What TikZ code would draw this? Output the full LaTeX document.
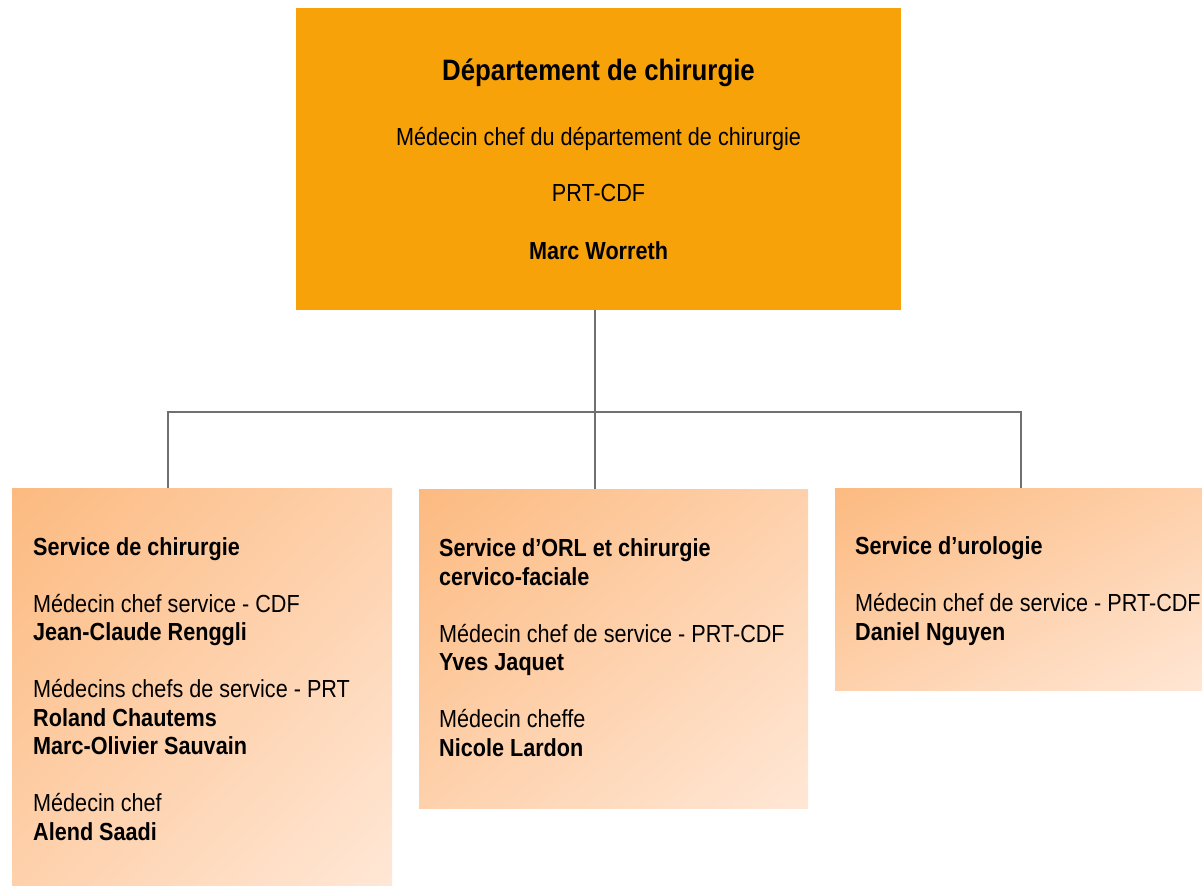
\documentclass[tikz,border=0pt]{standalone}
\usepackage{fontspec}
\usetikzlibrary{shadings}
\setmainfont{Liberation Sans}[FakeStretch=0.875]
\definecolor{topor}{RGB}{248,162,10}
\definecolor{gradA}{RGB}{252,186,128}
\definecolor{gradM}{RGB}{254,209,172}
\definecolor{gradB}{RGB}{255,231,214}
\definecolor{lineg}{RGB}{112,112,112}
\begin{document}
\begin{tikzpicture}[x=1pt,y=-1pt,
  topbox/.style={rectangle,fill=topor,draw=none,inner sep=0pt,anchor=north west},
  subbox/.style={rectangle,draw=none,inner sep=0pt,anchor=north west,
     upper left=gradA,upper right=gradM,lower left=gradM,lower right=gradB},
  conn/.style={draw=lineg,line width=2.2pt},
  txt/.style={inner sep=0pt,anchor=base west,align=left,
     font=\fontsize{24.7}{28.5}\selectfont},
  ctxt/.style={inner sep=0pt,anchor=base,
     font=\fontsize{24.7}{28.5}\selectfont},
  ttl/.style={inner sep=0pt,anchor=base,
     font=\fontsize{29.5}{34}\selectfont\bfseries}]
\useasboundingbox (0,0) rectangle (1202,886);
\fill[white] (0,0) rectangle (1202,886);
% boxes
\node[topbox,minimum width=605pt,minimum height=302pt] (top) at (296,8) {};
\node[subbox,minimum width=380pt,minimum height=397pt] (left) at (12,488) {};
\node[subbox,minimum width=389pt,minimum height=319pt] (mid) at (419,489) {};
\node[subbox,minimum width=380pt,minimum height=202pt] (right) at (835,488) {};
% connectors
\coordinate (bus) at (595,412);
\coordinate (lx) at (168,412);
\coordinate (rx) at (1021,412);
\draw[conn] (top.south -| bus) -- (mid.north -| bus);
\draw[conn] (left.north -| lx) -- (lx) -- (rx) -- (right.north -| rx);
% top texts
\node[ttl] (t1) at (598.5,80) {Département de chirurgie};
\node[ctxt] (t2) at (598.5,145) {Médecin chef du département de chirurgie};
\node[ctxt] (t3) at (598.5,201) {PRT-CDF};
\node[ctxt] (t4) at (598.5,259) {\bfseries Marc Worreth};
% left texts (anchored at the baseline of the last line)
\node[txt] (l1) at (33,840) {\bfseries Service de chirurgie\\[28.5pt]
Médecin chef service - CDF\\
\bfseries Jean-Claude Renggli\\[28.5pt]
Médecins chefs de service - PRT\\
\bfseries Roland Chautems\\
\bfseries Marc-Olivier Sauvain\\[28.5pt]
Médecin chef\\
\bfseries Alend Saadi};
% middle texts
\node[txt] (m1) at (439,756) {\bfseries Service d’ORL et chirurgie\\
\bfseries cervico-faciale\\[28.5pt]
Médecin chef de service - PRT-CDF\\
\bfseries Yves Jaquet\\[28.5pt]
Médecin cheffe\\
\bfseries Nicole Lardon};
% right texts
\node[txt] (r1) at (855,640) {\bfseries Service d’urologie\\[28.5pt]
Médecin chef de service - PRT-CDF\\
\bfseries Daniel Nguyen};
\end{tikzpicture}
\end{document}
